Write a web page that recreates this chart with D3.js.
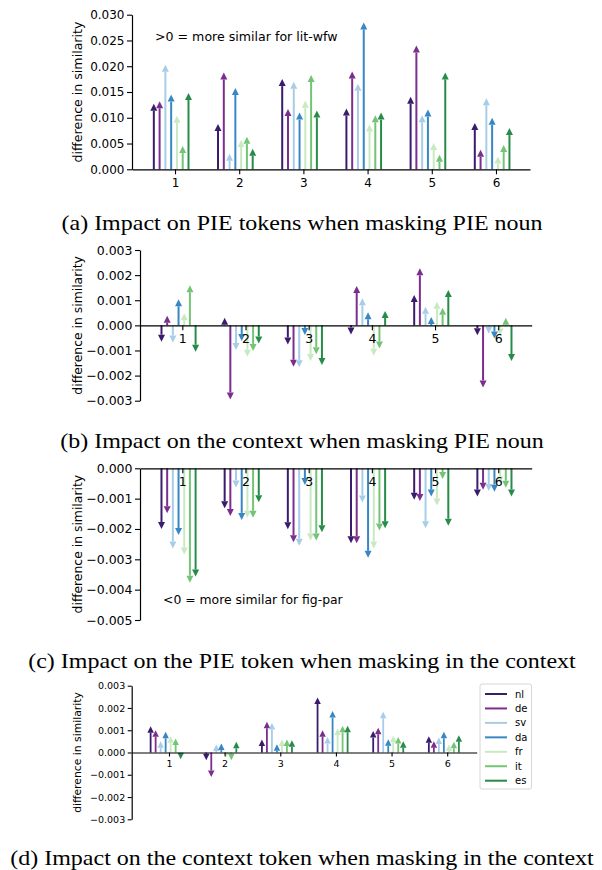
<!DOCTYPE html>
<html>
<head>
<meta charset="utf-8">
<script src="https://cdn.jsdelivr.net/npm/d3@7"></script>
<style>
  body { margin: 0; background: #fff; }
  svg text { font-family: "DejaVu Sans", sans-serif; }
  svg text.caption { font-family: "Liberation Serif", "Times New Roman", serif; }
</style>
</head>
<body>
<div id="chart"></div>
<script>
// languages and their colours
const langs = ["nl", "de", "sv", "da", "fr", "it", "es"];
const lang_colors = ["#3a1b6c", "#7b2e8e", "#a7cde8", "#3887c5", "#c9e9c1", "#74c476", "#278c49"];
const categories = [1, 2, 3, 4, 5, 6];

// (a) one row per language, one value per category
const panel_a = [
    [0.0127, 0.0088, 0.0175, 0.0118, 0.0141, 0.0090],
    [0.0132, 0.0188, 0.0117, 0.0190, 0.0240, 0.0038],
    [0.0203, 0.0030, 0.0170, 0.0166, 0.0105, 0.0138],
    [0.0145, 0.0158, 0.0110, 0.0285, 0.0116, 0.0100],
    [0.0104, 0.0057, 0.0133, 0.0087, 0.0051, 0.0025],
    [0.0045, 0.0063, 0.0183, 0.0105, 0.0028, 0.0047],
    [0.0148, 0.0040, 0.0114, 0.0110, 0.0188, 0.0080]
];
const panel_b = [
    [-0.00065, 0.00030, -0.00076, -0.00036, 0.00121, -0.00039],
    [0.00038, -0.00295, -0.00165, 0.00157, 0.00227, -0.00247],
    [-0.00068, -0.00098, -0.00167, 0.00108, 0.00074, -0.00033],
    [0.00104, -0.00062, -0.00038, 0.00052, 0.00033, -0.00052],
    [0.00048, -0.00125, -0.00142, -0.00121, 0.00094, -0.00040],
    [0.00160, -0.00102, -0.00115, -0.00092, 0.00070, 0.00030],
    [-0.00105, -0.00072, -0.00158, 0.00057, 0.00141, -0.00142]
];
const panel_c = [
    [-0.00200, -0.00132, -0.00201, -0.00247, -0.00104, -0.00093],
    [-0.00148, -0.00157, -0.00244, -0.00247, -0.00108, -0.00071],
    [-0.00264, -0.00063, -0.00255, -0.00113, -0.00198, -0.00075],
    [-0.00220, -0.00170, -0.00055, -0.00295, -0.00093, -0.00077],
    [-0.00284, -0.00163, -0.00238, -0.00264, -0.00123, -0.00050],
    [-0.00377, -0.00163, -0.00238, -0.00205, -0.00035, -0.00064],
    [-0.00357, -0.00112, -0.00211, -0.00198, -0.00189, -0.00093]
];
const panel_d = [
    [0.00118, -0.00035, 0.00058, 0.00247, 0.00096, 0.00073],
    [0.00100, -0.00110, 0.00138, 0.00100, 0.00111, 0.00051],
    [0.00051, 0.00036, 0.00133, 0.00070, 0.00183, 0.00067],
    [0.00093, 0.00040, 0.00037, 0.00186, 0.00060, 0.00093],
    [0.00073, -0.00020, 0.00058, 0.00108, 0.00075, 0.00036],
    [0.00063, -0.00035, 0.00058, 0.00120, 0.00070, 0.00048],
    [-0.00030, 0.00048, 0.00055, 0.00120, 0.00051, 0.00078]
];

const ticks_a = [0, 0.005, 0.010, 0.015, 0.020, 0.025, 0.030];
const ticks_b = [-0.003, -0.002, -0.001, 0, 0.001, 0.002, 0.003];
const ticks_c = [-0.005, -0.004, -0.003, -0.002, -0.001, 0];
const ticks_d = [-0.003, -0.002, -0.001, 0, 0.001, 0.002, 0.003];

const captions = [
    "(a) Impact on PIE tokens when masking PIE noun",
    "(b) Impact on the context when masking PIE noun",
    "(c) Impact on the PIE token when masking in the context",
    "(d) Impact on the context token when masking in the context"
];

const width = 602, height = 870;
const svg = d3.select("#chart").append("svg")
    .attr("width", width)
    .attr("height", height);

const fmt = d3.format(".3f");

function draw_panel(cfg) {
    const x = d3.scaleLinear().domain([0.33, 6.53]).range([cfg.left, cfg.right]);
    const y = d3.scaleLinear().domain(cfg.y_domain).range([cfg.bottom, cfg.top]);
    const g = svg.append("g");

    // arrows
    cfg.data.forEach((row, i) => {
        row.forEach((v, j) => {
            const cx = x(categories[j] + (i - 3) * 0.09 - 0.06);
            const y0 = y(0), y1 = y(v);
            const dir = v >= 0 ? 1 : -1;
            const head = Math.min(cfg.head_len, Math.abs(y1 - y0));
            const base = y1 + dir * head;
            g.append("line")
                .attr("x1", cx).attr("x2", cx)
                .attr("y1", y0).attr("y2", base)
                .attr("stroke", lang_colors[i])
                .attr("stroke-width", cfg.shaft);
            g.append("path")
                .attr("d", `M${cx - cfg.head_w / 2},${base}L${cx + cfg.head_w / 2},${base}L${cx},${y1}Z`)
                .attr("fill", lang_colors[i]);
        });
    });

    // x axis on the zero line
    const x_axis = g.append("g")
        .attr("transform", `translate(0,${y(0)})`)
        .call(d3.axisBottom(x).tickValues(categories).tickFormat(d3.format("d"))
            .tickSize(cfg.tick_len).tickPadding(cfg.x_pad).tickSizeOuter(0));
    x_axis.selectAll("text").style("font-size", cfg.tick_font + "px").attr("fill", "#000");

    const y_axis = g.append("g")
        .attr("transform", `translate(${cfg.left},0)`)
        .call(d3.axisLeft(y).tickValues(cfg.ticks).tickFormat(fmt)
            .tickSize(cfg.tick_len).tickPadding(2.5).tickSizeOuter(0));
    y_axis.selectAll("text").style("font-size", cfg.tick_font + "px").attr("fill", "#000");

    [x_axis, y_axis].forEach(a => {
        a.select(".domain").attr("stroke", "#000").attr("stroke-width", 1.2);
        a.selectAll(".tick line").attr("stroke", "#000").attr("stroke-width", 1.1);
    });

    g.append("text")
        .attr("transform", `translate(${cfg.ylabel_x},${(cfg.top + cfg.bottom) / 2}) rotate(-90)`)
        .attr("text-anchor", "middle")
        .style("font-size", cfg.label_font + "px")
        .text("difference in similarity");

    if (cfg.note) {
        g.append("text")
            .attr("x", cfg.note[0]).attr("y", cfg.note[1])
            .style("font-size", cfg.label_font + "px")
            .text(cfg.note[2]);
    }

    // caption is a little squashed vertically in the original
    svg.append("text")
        .attr("class", "caption")
        .attr("transform", `translate(302,${cfg.caption_y}) scale(1,0.88)`)
        .attr("text-anchor", "middle")
        .style("font-size", "24px")
        .text(cfg.caption);
}

draw_panel({
    data: panel_a, ticks: ticks_a, y_domain: [0, 0.030],
    left: 132, right: 530, top: 14.7, bottom: 169.3,
    tick_font: 12, label_font: 12.6, tick_len: 5, x_pad: 4,
    head_w: 7, head_len: 7, shaft: 2,
    ylabel_x: 82, note: [155, 41, ">0 = more similar for lit-wfw"],
    caption: captions[0], caption_y: 230
});

draw_panel({
    data: panel_b, ticks: ticks_b, y_domain: [-0.003, 0.003],
    left: 140, right: 531.7, top: 250, bottom: 400.7,
    tick_font: 12.5, label_font: 12.4, tick_len: 5, x_pad: 4,
    head_w: 7, head_len: 7, shaft: 2,
    ylabel_x: 82,
    caption: captions[1], caption_y: 448
});

draw_panel({
    data: panel_c, ticks: ticks_c, y_domain: [-0.005, 0],
    left: 140, right: 531.7, top: 468.3, bottom: 620,
    tick_font: 12.5, label_font: 12.4, tick_len: 5, x_pad: 4,
    head_w: 7, head_len: 7, shaft: 2,
    ylabel_x: 82, note: [163, 604, "<0 = more similar for fig-par"],
    caption: captions[2], caption_y: 668
});

draw_panel({
    data: panel_d, ticks: ticks_d, y_domain: [-0.003, 0.003],
    left: 131.7, right: 476.7, top: 685.7, bottom: 819.3,
    tick_font: 9.5, label_font: 10.8, tick_len: 4, x_pad: 4,
    head_w: 6.5, head_len: 6.5, shaft: 1.8,
    ylabel_x: 81,
    caption: captions[3], caption_y: 865
});

// legend for panel (d)
const legend = svg.append("g");
legend.append("rect")
    .attr("x", 480).attr("y", 684)
    .attr("width", 51.5).attr("height", 105)
    .attr("rx", 2)
    .attr("fill", "#fff")
    .attr("stroke", "#d6d6d6");
langs.forEach((lang, i) => {
    const ly = 694 + i * 14.45;
    legend.append("line")
        .attr("x1", 485).attr("x2", 507)
        .attr("y1", ly).attr("y2", ly)
        .attr("stroke", lang_colors[i])
        .attr("stroke-width", 2);
    legend.append("text")
        .attr("x", 515).attr("y", ly + 3.5)
        .style("font-size", "10px")
        .text(lang);
});
</script>
</body>
</html>
